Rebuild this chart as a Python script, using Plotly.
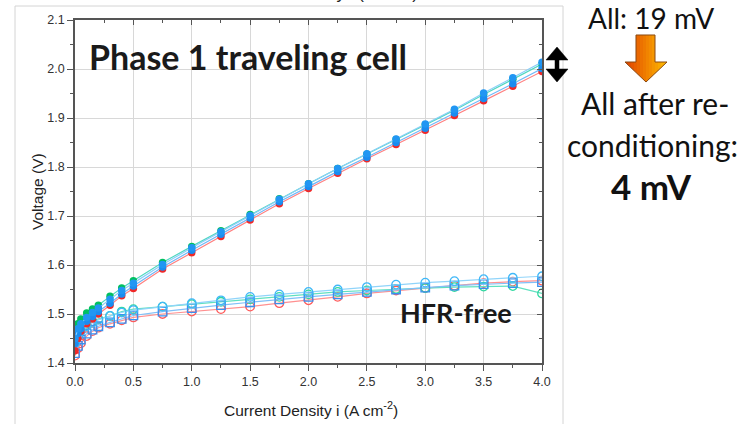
import plotly.graph_objects as go

# ---------------- data ----------------
current = [0, 0.025, 0.05, 0.1, 0.15, 0.2, 0.3, 0.4, 0.5, 0.75, 1.0, 1.25, 1.5,
           1.75, 2.0, 2.25, 2.5, 2.75, 3.0, 3.25, 3.5, 3.75, 4.0]

v_red = [1.425, 1.45, 1.465, 1.48, 1.49, 1.50, 1.518, 1.537, 1.552, 1.592, 1.625, 1.658,
         1.692, 1.725, 1.756, 1.787, 1.817, 1.846, 1.875, 1.905, 1.935, 1.965, 1.995]
v_blue = [1.44, 1.46, 1.47, 1.485, 1.495, 1.505, 1.522, 1.541, 1.557, 1.596, 1.63, 1.663,
          1.696, 1.729, 1.76, 1.791, 1.82, 1.85, 1.879, 1.91, 1.94, 1.97, 2.001]
v_sky = [1.45, 1.47, 1.48, 1.493, 1.503, 1.512, 1.53, 1.548, 1.563, 1.601, 1.635, 1.668,
         1.701, 1.734, 1.766, 1.797, 1.827, 1.857, 1.888, 1.918, 1.951, 1.982, 2.014]
v_green = [1.465, 1.48, 1.49, 1.502, 1.51, 1.518, 1.536, 1.553, 1.568, 1.605, 1.638, 1.670,
           1.703, 1.735, 1.766, 1.797, 1.826, 1.856, 1.886, 1.916, 1.948, 1.979, 2.01]

hfr_red = [1.415, 1.43, 1.44, 1.455, 1.465, 1.472, 1.48, 1.487, 1.493, 1.500, 1.505, 1.510,
           1.515, 1.522, 1.528, 1.535, 1.542, 1.548, 1.553, 1.558, 1.563, 1.566, 1.568]
hfr_blue = [1.42, 1.435, 1.448, 1.46, 1.468, 1.475, 1.483, 1.49, 1.497, 1.505, 1.512, 1.518,
            1.524, 1.53, 1.535, 1.54, 1.545, 1.55, 1.554, 1.558, 1.561, 1.563, 1.565]
hfr_sky = [1.44, 1.455, 1.465, 1.475, 1.482, 1.488, 1.496, 1.503, 1.508, 1.515, 1.522, 1.528,
           1.535, 1.54, 1.545, 1.55, 1.555, 1.56, 1.564, 1.567, 1.571, 1.574, 1.577]
hfr_green = [1.465, 1.47, 1.475, 1.48, 1.485, 1.49, 1.496, 1.505, 1.51, 1.515, 1.52, 1.525,
             1.53, 1.535, 1.54, 1.545, 1.548, 1.551, 1.553, 1.555, 1.556, 1.557, 1.542]

x_ticks = [0.0, 0.5, 1.0, 1.5, 2.0, 2.5, 3.0, 3.5, 4.0]
y_ticks = [1.4, 1.5, 1.6, 1.7, 1.8, 1.9, 2.0, 2.1]

# ---------------- geometry helpers ----------------
W, H = 738, 424
L, R, T, B = 75, 542, 20, 363


def px(x):
    return (x - L) / (R - L)


def py(y):
    return (B - y) / (B - T)


fig = go.Figure()

# HFR-free (hollow)
hollow = [
    (hfr_red, "#ff5a5a", "#ff9090", "circle-open"),
    (hfr_green, "#30d8a0", "#60e0c0", "circle-open"),
    (hfr_blue, "#3a8ff0", "#80c0f8", "square-open"),
    (hfr_sky, "#40b8f8", "#90d4fa", "circle-open"),
]
for ys, mc, lc, sym in hollow:
    fig.add_trace(go.Scatter(x=current, y=ys, mode="lines+markers",
                             line=dict(color=lc, width=1.2),
                             marker=dict(symbol=sym, size=8.5, color=mc, line=dict(width=1.3)),
                             showlegend=False))

# polarization (solid)
solid = [
    (v_red, "#f02828", "#ff8080"),
    (v_green, "#00c060", "#50d8c0"),
    (v_blue, "#1a8cf0", "#70b8f8"),
    (v_sky, "#2196f3", "#8ccff8"),
]
for ys, mc, lc in solid:
    fig.add_trace(go.Scatter(x=current, y=ys, mode="lines+markers",
                             line=dict(color=lc, width=1.2),
                             marker=dict(symbol="circle", size=7.5, color=mc),
                             showlegend=False))

# dummy trace for the mirrored axes
fig.add_trace(go.Scatter(x=[], y=[], xaxis="x2", yaxis="y2", showlegend=False))

axis_font = dict(family="Liberation Sans, Arial", size=12.5, color="#333333")
fig.update_layout(
    width=W, height=H,
    margin=dict(l=L, r=W - R, t=T, b=H - B),
    paper_bgcolor="white", plot_bgcolor="white",
    xaxis=dict(range=[0, 4.0], tickvals=x_ticks, ticktext=[f"{v:.1f}" for v in x_ticks],
               showgrid=True, gridcolor="#d8d8d8", gridwidth=1,
               showline=True, linecolor="#555555", linewidth=1.5,
               ticks="outside", ticklen=6, tickcolor="#555555",
               minor=dict(dtick=0.25, ticks="outside", ticklen=3, tickcolor="#555555", showgrid=False),
               tickfont=axis_font, zeroline=False),
    yaxis=dict(range=[1.4, 2.1], tickvals=y_ticks, ticktext=[f"{v:.1f}" for v in y_ticks],
               showgrid=True, gridcolor="#d8d8d8", gridwidth=1,
               showline=True, linecolor="#555555", linewidth=1.5,
               ticks="outside", ticklen=6, tickcolor="#555555",
               minor=dict(dtick=0.05, ticks="outside", ticklen=3, tickcolor="#555555", showgrid=False),
               tickfont=axis_font, zeroline=False),
    xaxis2=dict(range=[0, 4.0], overlaying="x", side="top", anchor="y", tickvals=x_ticks,
                showticklabels=False, showgrid=False, zeroline=False,
                showline=True, linecolor="#555555", linewidth=1.5,
                ticks="inside", ticklen=5, tickcolor="#555555",
                minor=dict(dtick=0.25, ticks="inside", ticklen=3, tickcolor="#555555", showgrid=False)),
    yaxis2=dict(range=[1.4, 2.1], overlaying="y", side="right", anchor="x", tickvals=y_ticks,
                showticklabels=False, showgrid=False, zeroline=False,
                showline=True, linecolor="#555555", linewidth=1.5,
                ticks="inside", ticklen=5, tickcolor="#555555",
                minor=dict(dtick=0.05, ticks="inside", ticklen=3, tickcolor="#555555", showgrid=False)),
)

shapes = []
# outer light frame
shapes.append(dict(type="rect", xref="paper", yref="paper",
                   x0=px(15), x1=px(563), y0=py(440), y1=py(6),
                   line=dict(color="#d4d4d4", width=1), fillcolor="rgba(0,0,0,0)", layer="below"))


def path_from(points):
    s = "M " + " L ".join(f"{px(x):.5f},{py(y):.5f}" for x, y in points) + " Z"
    return s


# orange gradient arrow (clipped into vertical strips)
arrow = [(636, 35), (655, 35), (655, 62), (667, 62), (646, 82), (625, 62), (636, 62)]


def clip(poly, xmin, xmax):
    def clip_edge(pts, inside, inter):
        out = []
        n = len(pts)
        for i in range(n):
            cur, prev = pts[i], pts[i - 1]
            if inside(cur):
                if not inside(prev):
                    out.append(inter(prev, cur))
                out.append(cur)
            elif inside(prev):
                out.append(inter(prev, cur))
        return out

    def ix(xc):
        def f(a, b):
            t = (xc - a[0]) / (b[0] - a[0])
            return (xc, a[1] + t * (b[1] - a[1]))
        return f

    pts = clip_edge(poly, lambda p: p[0] >= xmin, ix(xmin))
    if pts:
        pts = clip_edge(pts, lambda p: p[0] <= xmax, ix(xmax))
    return pts


def lerp_col(c0, c1, t):
    return "#" + "".join(f"{int(round(a + (b - a) * t)):02x}" for a, b in zip(c0, c1))


c_left, c_right = (224, 64, 0), (255, 190, 0)
x0a, x1a = 625, 667
nstrip = 14
for i in range(nstrip):
    xa = x0a + (x1a - x0a) * i / nstrip
    xb = x0a + (x1a - x0a) * (i + 1) / nstrip + 0.4
    pts = clip(arrow, xa, xb)
    if len(pts) >= 3:
        shapes.append(dict(type="path", xref="paper", yref="paper", path=path_from(pts),
                           fillcolor=lerp_col(c_left, c_right, (i + 0.5) / nstrip),
                           line=dict(width=0)))
shapes.append(dict(type="path", xref="paper", yref="paper", path=path_from(arrow),
                   fillcolor="rgba(0,0,0,0)", line=dict(color="#8a4a12", width=1)))

# black double arrow
dbl = [(557, 47), (568, 60), (559, 60), (559, 69), (568, 69), (557, 82),
       (546, 69), (555, 69), (555, 60), (546, 60)]
shapes.append(dict(type="path", xref="paper", yref="paper", path=path_from(dbl),
                   fillcolor="black", line=dict(color="black", width=0.5)))
fig.update_layout(shapes=shapes)

cal = "Lato, Open Sans, sans-serif"
ann = []


def add_text(text, x, y, size, bold=False, family=cal, color="#1a1a1a", angle=0, xanchor="center"):
    ann.append(dict(text=f"<b>{text}</b>" if bold else text, x=px(x), y=py(y),
                    xref="paper", yref="paper", showarrow=False, xanchor=xanchor,
                    yanchor="middle", textangle=angle,
                    font=dict(family=family, size=size, color=color)))


add_text("Phase 1 traveling cell", 248, 56, 34, bold=True)
add_text("HFR-free", 456, 312, 27, bold=True)
add_text("All: 19 mV", 651, 18, 28, color="#111111")
add_text("All after re-", 655, 103, 30, color="#111111")
add_text("conditioning:", 652, 145, 30, color="#111111")
add_text("4 mV", 651, 186, 35, bold=True, color="#111111")
add_text("Current Density i (A cm<sup>-2</sup>)", 311, 409, 15.5,
         family="Liberation Sans, Arial", color="#222222")
add_text("Voltage (V)", 37, 192, 15.5, family="Liberation Sans, Arial", color="#222222", angle=-90)
add_text("Current Density i (A cm<sup>-2</sup>)", 322, -8, 17,
         family="Liberation Sans, Arial", color="#222222")
fig.update_layout(annotations=ann)

fig.write_html("out.html")
